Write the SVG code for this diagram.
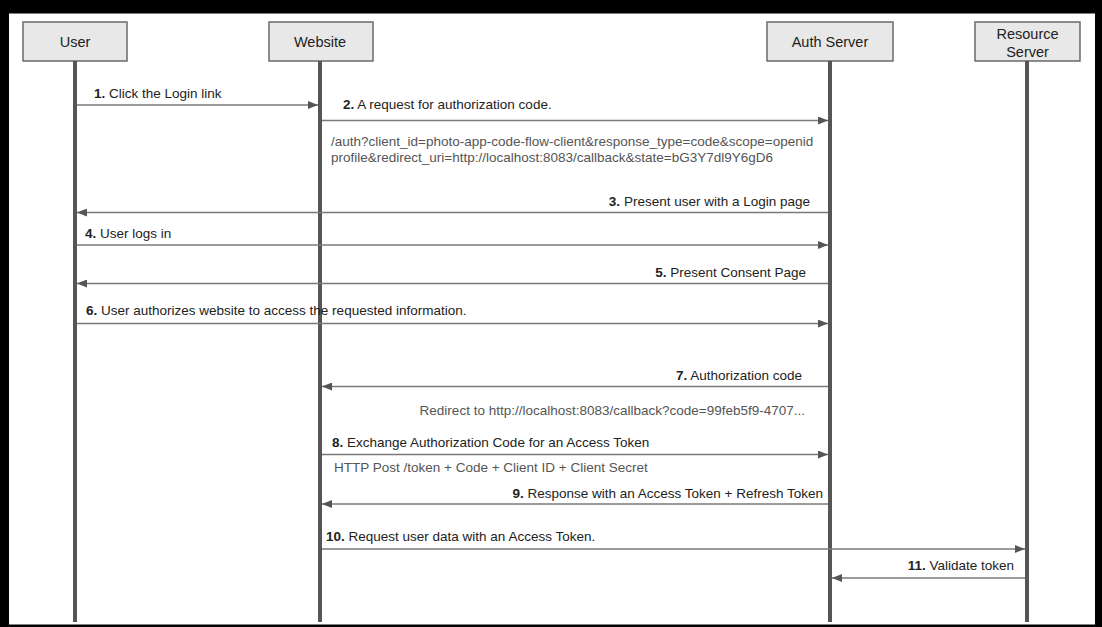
<svg xmlns="http://www.w3.org/2000/svg" width="1102" height="627" viewBox="0 0 1102 627">
<style>
.box{fill:#e8e8e8;stroke:#6a6a6a;stroke-width:1.5}
.bt{font-family:"Liberation Sans",Arial,sans-serif;font-size:14.5px;fill:#222;text-anchor:middle}
.life{stroke:#555;stroke-width:4}
.msg{stroke:#7a7a7a;stroke-width:1.5;fill:none}
.lb{font-family:"Liberation Sans",Arial,sans-serif;font-size:13.5px;fill:#222}
.sub{font-family:"Liberation Sans",Arial,sans-serif;font-size:13.5px;fill:#555}
.r{text-anchor:end}
.n{font-weight:bold}
</style>
<defs>
<marker id="ah" viewBox="0 0 10 8" refX="10" refY="4" markerWidth="10" markerHeight="8" markerUnits="userSpaceOnUse" orient="auto">
<path d="M0,0 L10,4 L0,8 Z" fill="#555"/>
</marker>
</defs>
<rect x="0" y="0" width="1102" height="627" fill="#000"/>
<rect x="9" y="13.5" width="1086" height="611" fill="#fff"/>

<g id="user">
<rect class="box" x="23" y="22" width="104" height="39"/>
<text class="bt" x="75" y="46.5">User</text>
<line class="life" x1="75" y1="61" x2="75" y2="622"/>
</g>
<g id="website">
<rect class="box" x="269" y="22" width="104" height="39"/>
<text class="bt" x="320" y="46.5">Website</text>
<line class="life" x1="320" y1="61" x2="320" y2="622"/>
</g>
<g id="auth-server">
<rect class="box" x="767" y="22" width="126" height="39"/>
<text class="bt" x="830" y="46.5">Auth Server</text>
<line class="life" x1="830" y1="61" x2="830" y2="622"/>
</g>
<g id="resource-server">
<rect class="box" x="975" y="22" width="105" height="39"/>
<text class="bt" x="1027.5" y="38.5">Resource</text>
<text class="bt" x="1027.5" y="57">Server</text>
<line class="life" x1="1027" y1="61" x2="1027" y2="622"/>
</g>

<g id="connectors">
<line class="msg" x1="77" y1="105" x2="318" y2="105" marker-end="url(#ah)"/>
<line class="msg" x1="322" y1="120.5" x2="828" y2="120.5" marker-end="url(#ah)"/>
<line class="msg" x1="828" y1="212.5" x2="77" y2="212.5" marker-end="url(#ah)"/>
<line class="msg" x1="77" y1="245" x2="828" y2="245" marker-end="url(#ah)"/>
<line class="msg" x1="828" y1="283.5" x2="77" y2="283.5" marker-end="url(#ah)"/>
<line class="msg" x1="77" y1="323.5" x2="828" y2="323.5" marker-end="url(#ah)"/>
<line class="msg" x1="828" y1="386.5" x2="322" y2="386.5" marker-end="url(#ah)"/>
<line class="msg" x1="322" y1="454.5" x2="828" y2="454.5" marker-end="url(#ah)"/>
<line class="msg" x1="828" y1="504" x2="322" y2="504" marker-end="url(#ah)"/>
<line class="msg" x1="322" y1="549" x2="1025" y2="549" marker-end="url(#ah)"/>
<line class="msg" x1="1025" y1="578" x2="832" y2="578" marker-end="url(#ah)"/>
</g>

<g id="labels">
<text class="lb" x="94" y="98"><tspan class="n">1.</tspan> Click the Login link</text>
<text class="lb" x="343" y="109"><tspan class="n">2.</tspan> A request for authorization code.</text>
<text class="sub" x="331" y="145.5">/auth?client_id=photo-app-code-flow-client&amp;response_type=code&amp;scope=openid</text>
<text class="sub" x="331" y="161.5">profile&amp;redirect_uri=http://localhost:8083/callback&amp;state=bG3Y7dl9Y6gD6</text>
<text class="lb r" x="810" y="206"><tspan class="n">3.</tspan> Present user with a Login page</text>
<text class="lb" x="85" y="238"><tspan class="n">4.</tspan> User logs in</text>
<text class="lb r" x="806" y="276.5"><tspan class="n">5.</tspan> Present Consent Page</text>
<text class="lb" x="86" y="315"><tspan class="n">6.</tspan> User authorizes website to access the requested information.</text>
<text class="lb r" x="802" y="380"><tspan class="n">7.</tspan> Authorization code</text>
<text class="sub r" x="805" y="414.5">Redirect to http://localhost:8083/callback?code=99feb5f9-4707...</text>
<text class="lb" x="332" y="447"><tspan class="n">8.</tspan> Exchange Authorization Code for an Access Token</text>
<text class="sub" x="334" y="471.5">HTTP Post /token + Code + Client ID + Client Secret</text>
<text class="lb r" x="823" y="497.5"><tspan class="n">9.</tspan> Response with an Access Token + Refresh Token</text>
<text class="lb" x="326" y="541"><tspan class="n">10.</tspan> Request user data with an Access Token.</text>
<text class="lb r" x="1014" y="570"><tspan class="n">11.</tspan> Validate token</text>
</g>
</svg>
